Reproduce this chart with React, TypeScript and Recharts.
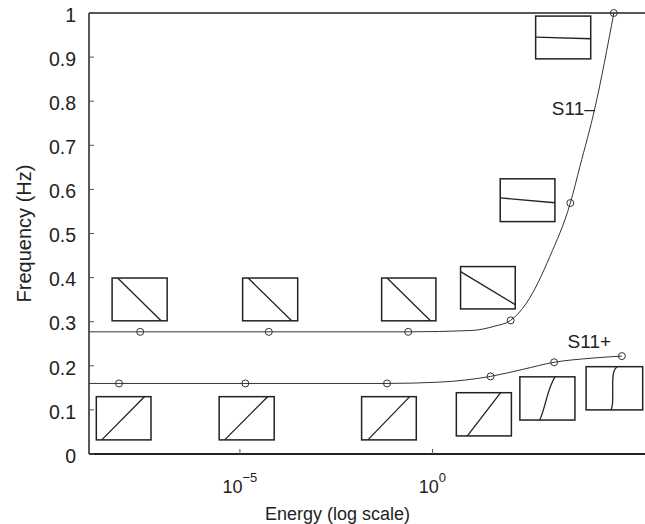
import React from 'react';
import { ComposedChart, Line, XAxis, YAxis, ReferenceArea, ReferenceDot, ReferenceLine, Label } from 'recharts';

// x values are log10(energy); the axis is drawn as a log scale via tick labels
const s11MinusCurveLogE = [-8.92, -0.63, 1.0, 1.62, 2.03, 2.44, 3.05, 3.58, 3.83, 4.22, 4.71];
const s11MinusCurveFreq = [0.277, 0.277, 0.28, 0.29, 0.303, 0.342, 0.448, 0.569, 0.652, 0.785, 1.0];
const s11PlusCurveLogE = [-8.92, -1.18, 0.19, 1.51, 2.35, 3.16, 4.09, 4.92];
const s11PlusCurveFreq = [0.16, 0.16, 0.163, 0.176, 0.192, 0.208, 0.217, 0.222];

const s11MinusLogE = [-7.59, -4.25, -0.63, 2.03, 3.58, 4.71];
const s11MinusFreq = [0.277, 0.277, 0.277, 0.303, 0.569, 1.0];
const s11PlusLogE = [-8.14, -4.86, -1.18, 1.51, 3.16, 4.92];
const s11PlusFreq = [0.16, 0.16, 0.16, 0.176, 0.208, 0.222];

const xTicks = [-5, 0];
const yTicks = [0, 0.1, 0.2, 0.3, 0.4, 0.5, 0.6, 0.7, 0.8, 0.9, 1];

// inset boxes (data units) with the mode shape drawn inside (unit square, y down)
const insets = [
  { x1: -8.32, x2: -6.89, y1: 0.302, y2: 0.399, glyph: 'M0.1,0 L0.89,1' },
  { x1: -4.93, x2: -3.5, y1: 0.302, y2: 0.399, glyph: 'M0.1,0 L0.89,1' },
  { x1: -1.32, x2: 0.09, y1: 0.302, y2: 0.399, glyph: 'M0.1,0 L0.9,1' },
  { x1: 0.73, x2: 2.15, y1: 0.329, y2: 0.425, glyph: 'M0,0.12 L1,0.9' },
  { x1: 1.76, x2: 3.18, y1: 0.527, y2: 0.624, glyph: 'M0,0.445 L1,0.56' },
  { x1: 2.68, x2: 4.11, y1: 0.896, y2: 0.993, glyph: 'M0,0.49 L1,0.53' },
  { x1: -8.73, x2: -7.31, y1: 0.032, y2: 0.13, glyph: 'M0.1,1 L0.88,0' },
  { x1: -5.54, x2: -4.11, y1: 0.032, y2: 0.13, glyph: 'M0.1,1 L0.88,0' },
  { x1: -1.84, x2: -0.42, y1: 0.032, y2: 0.13, glyph: 'M0.115,1 L0.88,0' },
  { x1: 0.62, x2: 2.05, y1: 0.041, y2: 0.139, glyph: 'M0.2,1 L0.805,0' },
  { x1: 2.27, x2: 3.7, y1: 0.077, y2: 0.175, glyph: 'M0.36,1 C0.46,0.75 0.5,0.25 0.64,0' },
  { x1: 3.99, x2: 5.46, y1: 0.1, y2: 0.198, glyph: 'M0.55,0 C0.46,0.08 0.47,0.3 0.47,0.55 C0.47,0.8 0.48,0.92 0.44,1' },
];

const seriesLabels = [
  { text: 'S11\u2013', logE: 3.1, freq: 0.785 },
  { text: 'S11+', logE: 3.51, freq: 0.255 },
];

const INK = '#222';
const FONT = '"Liberation Sans", Arial, Helvetica, sans-serif';

const zip = (xs: number[], ys: number[]) => xs.map((logE, i) => ({ logE, freq: ys[i] }));

const s11MinusCurve = zip(s11MinusCurveLogE, s11MinusCurveFreq);
const s11PlusCurve = zip(s11PlusCurveLogE, s11PlusCurveFreq);
const s11MinusPts = zip(s11MinusLogE, s11MinusFreq);
const s11PlusPts = zip(s11PlusLogE, s11PlusFreq);

const XTick = (props: any) => {
  const { x, y, payload } = props;
  const exp = String(payload.value).replace('-', '\u2212');
  return (
    <g>
      <line x1={x} x2={x} y1={y} y2={y - 5} stroke="#555" />
      <text x={x} y={y + 39} textAnchor="middle" fontSize={18} fill={INK} fontFamily={FONT}>
        10<tspan dy={-11} fontSize={13}>{exp}</tspan>
      </text>
    </g>
  );
};

const YTick = (props: any) => {
  const { x, y, payload } = props;
  return (
    <g>
      <line x1={x} x2={x + 5} y1={y} y2={y} stroke="#555" />
      <text x={x - 13} y={y} dy="0.45em" textAnchor="end" fontSize={19.5} fill={INK} fontFamily={FONT}>
        {payload.value}
      </text>
    </g>
  );
};

const renderInset = (p: any, glyph: string) => {
  const { x, y, width, height } = p;
  return (
    <g>
      <rect x={x} y={y} width={width} height={height} fill="#fff" stroke={INK} strokeWidth={1.5} />
      <g transform={`translate(${x},${y}) scale(${width},${height})`}>
        <path d={glyph} fill="none" stroke={INK} strokeWidth={1.3} vectorEffect="non-scaling-stroke" />
      </g>
    </g>
  );
};

export default function App() {
  return (
    <div style={{ width: 645, height: 524, background: '#fff' }}>
      <style>{'body{margin:0;overflow:hidden;background:#fff}'}</style>
      <ComposedChart width={645} height={524} margin={{ top: 13, right: 0, bottom: 69, left: 88 }}>
        <XAxis
          dataKey="logE"
          type="number"
          domain={[-8.92, 5.52]}
          allowDataOverflow
          ticks={xTicks}
          height={1}
          tickSize={0}
          tickMargin={0}
          tick={XTick}
          axisLine={{ stroke: INK, strokeWidth: 2 }}
        >
          <Label
            content={(lp: any) => (
              <text x={337.5} y={lp.viewBox.y + 66} textAnchor="middle" fontSize={18} fill={INK} fontFamily={FONT}>
                Energy (log scale)
              </text>
            )}
          />
        </XAxis>
        <YAxis
          type="number"
          domain={[0, 1]}
          ticks={yTicks}
          width={1}
          tickSize={0}
          tickMargin={0}
          tick={YTick}
          axisLine={{ stroke: INK, strokeWidth: 1.5 }}
        >
          <Label
            content={(lp: any) => {
              const cy = lp.viewBox.y + lp.viewBox.height / 2;
              return (
                <text x={24} y={cy} transform={`rotate(-90 24 ${cy})`} dy="0.36em" textAnchor="middle" fontSize={20} fill={INK} fontFamily={FONT}>
                  Frequency (Hz)
                </text>
              );
            }}
          />
        </YAxis>
        <ReferenceLine y={1} stroke={INK} strokeWidth={1.5} />
        {insets.map((b, i) => (
          <ReferenceArea key={`inset-${i}`} x1={b.x1} x2={b.x2} y1={b.y1} y2={b.y2} shape={(p: any) => renderInset(p, b.glyph)} />
        ))}
        <Line data={s11MinusCurve} dataKey="freq" type="monotone" stroke="#333" strokeWidth={1} dot={false} isAnimationActive={false} />
        <Line data={s11PlusCurve} dataKey="freq" type="monotone" stroke="#333" strokeWidth={1} dot={false} isAnimationActive={false} />
        <Line data={s11MinusPts} dataKey="freq" stroke="none" dot={{ r: 3.5, stroke: '#333', strokeWidth: 1, fill: 'none' }} isAnimationActive={false} />
        <Line data={s11PlusPts} dataKey="freq" stroke="none" dot={{ r: 3.5, stroke: '#333', strokeWidth: 1, fill: 'none' }} isAnimationActive={false} />
        {seriesLabels.map((s) => (
          <ReferenceDot
            key={s.text}
            x={s.logE}
            y={s.freq}
            r={0}
            shape={(p: any) => (
              <text x={p.cx} y={p.cy} dy="0.36em" fontSize={19} fill={INK} fontFamily={FONT}>
                {s.text}
              </text>
            )}
          />
        ))}
      </ComposedChart>
    </div>
  );
}
